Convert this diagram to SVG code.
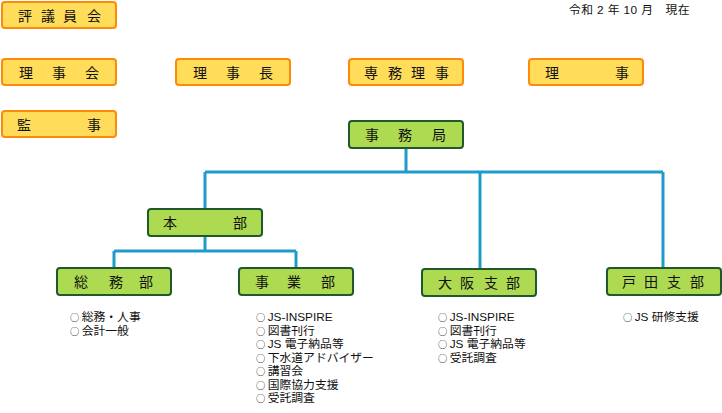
<svg xmlns="http://www.w3.org/2000/svg" width="722" height="413" viewBox="0 0 722 413">
<style>
.ob{fill:#FFDC5A;stroke:#FF8A0A;stroke-width:2}
.gb{fill:#ADDA50;stroke:#1F5A2C;stroke-width:2}
.lbl{font-family:"Noto Sans CJK JP","Noto Sans",sans-serif;font-size:14px;fill:#111}
.li{font-family:"Liberation Sans","Noto Sans CJK JP",sans-serif;font-size:11.8px;fill:#111}
.c{font-family:"Noto Sans CJK JP",sans-serif;font-size:9.2px;letter-spacing:2.5px}
.cn{fill:none;stroke:#1E9BCB;stroke-width:3}
</style>
<rect width="722" height="413" fill="#fff"/>
<text class="li" x="569" y="13.5" font-size="11" letter-spacing="0.4">令和 2 年 10 月　現在</text>

<g id="hyogiinkai"><rect class="ob" x="2" y="2" width="114" height="26" rx="3"/><text class="lbl" x="18 41 63 87" y="21">評議員会</text></g>
<g id="rijikai"><rect class="ob" x="2" y="59" width="114" height="26" rx="3"/><text class="lbl" x="19 52 85" y="78">理事会</text></g>
<g id="rijicho"><rect class="ob" x="176" y="59" width="114" height="26" rx="3"/><text class="lbl" x="193 226 259" y="78">理事長</text></g>
<g id="senmuriji"><rect class="ob" x="349" y="59" width="114" height="26" rx="3"/><text class="lbl" x="364 388 411 435" y="78">専務理事</text></g>
<g id="riji"><rect class="ob" x="529" y="59" width="114" height="26" rx="3"/><text class="lbl" x="545 615" y="78">理事</text></g>
<g id="kanji"><rect class="ob" x="2" y="111" width="114" height="26" rx="3"/><text class="lbl" x="17 87" y="130">監事</text></g>

<g id="connectors">
<path class="cn" d="M406 148V172M205 172H663M205 172V209M480 172V268M663 172V267"/>
<path class="cn" d="M205 237V251M114 251H296M114 251V267M296 251V267"/>
</g>

<g id="jimukyoku"><rect class="gb" x="349" y="121" width="114" height="27" rx="3"/><text class="lbl" x="365 398 432" y="140">事務局</text></g>
<g id="honbu"><rect class="gb" x="148" y="209" width="114" height="27" rx="3"/><text class="lbl" x="163 233" y="228">本部</text></g>
<g id="somubu"><rect class="gb" x="57" y="268" width="114" height="27" rx="3"/><text class="lbl" x="74 109 139" y="287">総務部</text>
<text class="li" y="321"><tspan x="70" class="c">○</tspan>総務・人事<tspan x="70" dy="13.5" class="c">○</tspan>会計一般</text></g>
<g id="jigyobu"><rect class="gb" x="239" y="268" width="114" height="27" rx="3"/><text class="lbl" x="255 287 321" y="287">事業部</text>
<text class="li" y="321"><tspan x="256" class="c">○</tspan>JS-INSPIRE<tspan x="256" dy="13.5" class="c">○</tspan>図書刊行<tspan x="256" dy="13.5" class="c">○</tspan>JS 電子納品等<tspan x="256" dy="13.5" class="c">○</tspan>下水道アドバイザー<tspan x="256" dy="13.5" class="c">○</tspan>講習会<tspan x="256" dy="13.5" class="c">○</tspan>国際協力支援<tspan x="256" dy="13.5" class="c">○</tspan>受託調査</text></g>
<g id="osaka"><rect class="gb" x="422" y="269" width="114" height="27" rx="3"/><text class="lbl" x="438 460 484 506" y="288">大阪支部</text>
<text class="li" y="321"><tspan x="438" class="c">○</tspan>JS-INSPIRE<tspan x="438" dy="13.5" class="c">○</tspan>図書刊行<tspan x="438" dy="13.5" class="c">○</tspan>JS 電子納品等<tspan x="438" dy="13.5" class="c">○</tspan>受託調査</text></g>
<g id="toda"><rect class="gb" x="607" y="268" width="114" height="27" rx="3"/><text class="lbl" x="622 644 667 690" y="287">戸田支部</text>
<text class="li" y="321"><tspan x="623" class="c">○</tspan>JS 研修支援</text></g>
</svg>
